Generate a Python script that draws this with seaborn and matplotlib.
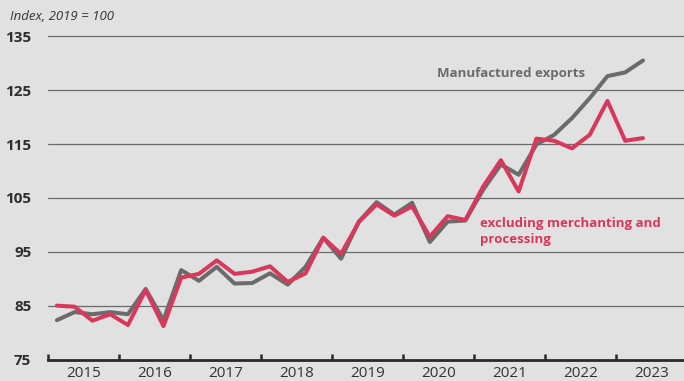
import matplotlib
matplotlib.use("Agg")
import matplotlib.pyplot as plt
import seaborn as sns
import pandas as pd

# Quarterly data 2015Q1 - 2023Q2
quarters = [f"{y}Q{q}" for y in range(2015, 2024) for q in range(1, 5)][:34]
manufactured = [82.3, 83.8, 83.4, 83.8, 83.4, 88.1, 82.3, 91.6, 89.6, 92.2,
                89.1, 89.2, 91.0, 88.9, 92.2, 97.6, 93.7, 100.6, 104.2, 101.9,
                104.1, 96.8, 100.6, 100.8, 106.5, 111.2, 109.3, 114.9, 116.7, 119.8,
                123.5, 127.6, 128.3, 130.5]
excluding = [85.0, 84.8, 82.2, 83.4, 81.4, 87.9, 81.2, 90.2, 90.9, 93.4,
             90.9, 91.3, 92.3, 89.4, 91.0, 97.6, 94.6, 100.5, 103.8, 101.7,
             103.4, 97.8, 101.6, 100.9, 107.1, 112.0, 106.2, 116.0, 115.6, 114.2,
             116.7, 123.0, 115.6, 116.1]
years = [str(y) for y in range(2015, 2024)]
yticks = [75, 85, 95, 105, 115, 125, 135]

series_names = ["Manufactured exports", "excluding merchanting and processing"]
colors = {"Manufactured exports": "#6b6b6b",
          "excluding merchanting and processing": "#d8385a"}

pos = [i + 0.5 for i in range(len(quarters))]
df = pd.concat([
    pd.DataFrame({"pos": pos, "value": manufactured, "series": series_names[0]}),
    pd.DataFrame({"pos": pos, "value": excluding, "series": series_names[1]}),
])

bg = "#e1e1e1"
sns.set_theme(style="white", rc={"axes.facecolor": bg, "figure.facecolor": bg})
plt.rcParams["font.family"] = ["Open Sans", "DejaVu Sans"]

W, H = 684, 381
fig = plt.figure(figsize=(W / 100, H / 100), dpi=100)
fig.patch.set_facecolor(bg)
ax_left = 48 / W
ax_bottom = (H - 359.5) / H
ppu = 5.387
top_val = 136
ax_height = (61 * ppu) / H
ax = fig.add_axes([ax_left, ax_bottom, 1 - ax_left, ax_height])
ax.set_facecolor(bg)

sns.lineplot(data=df, x="pos", y="value", hue="series", palette=colors,
             hue_order=series_names, linewidth=2.9, ax=ax, legend=False,
             zorder=3)

ax.set_xlim(0, 636 / 17.76)
ax.set_ylim(75, top_val)

# gridlines
for v in yticks[1:]:
    ax.axhline(v, color="#6a6a6a", linewidth=0.9, zorder=1)

ax.set_yticks(yticks)
ax.set_yticklabels([str(v) for v in yticks], fontsize=11, fontweight="bold",
                   color="#2e2e2e")
ax.tick_params(axis="y", length=0, pad=12)

ax.set_xticks([4 * k for k in range(len(years))])
ax.set_xticklabels([])
ax.set_xticks([4 * k + 2 for k in range(len(years))], minor=True)
ax.set_xticklabels(years, minor=True, fontsize=11, color="#333333")
ax.tick_params(axis="x", which="major", bottom=True, direction="in", length=4,
               width=1.8, color="#2a2a2a")
ax.tick_params(axis="x", which="minor", bottom=True, length=0, pad=5)

for s in ["top", "right", "left"]:
    ax.spines[s].set_visible(False)
ax.spines["bottom"].set_color("#2a2a2a")
ax.spines["bottom"].set_linewidth(2.0)
ax.set_xlabel("")
ax.set_ylabel("")

# annotations
fig.text(437 / W, 1 - 73 / H, "Manufactured exports", color="#6b6b6b",
         fontsize=9.5, fontweight="bold", ha="left", va="center")
fig.text(480 / W, 1 - 231 / H, "excluding merchanting and\nprocessing",
         color="#d8385a", fontsize=9.5, fontweight="bold", ha="left",
         va="center", linespacing=1.3)
fig.text(10 / W, 1 - 17 / H, "Index, 2019 = 100", fontsize=9.5,
         fontstyle="italic", color="#333333", ha="left", va="center")

fig.savefig("out.png", dpi=100, facecolor=bg)
